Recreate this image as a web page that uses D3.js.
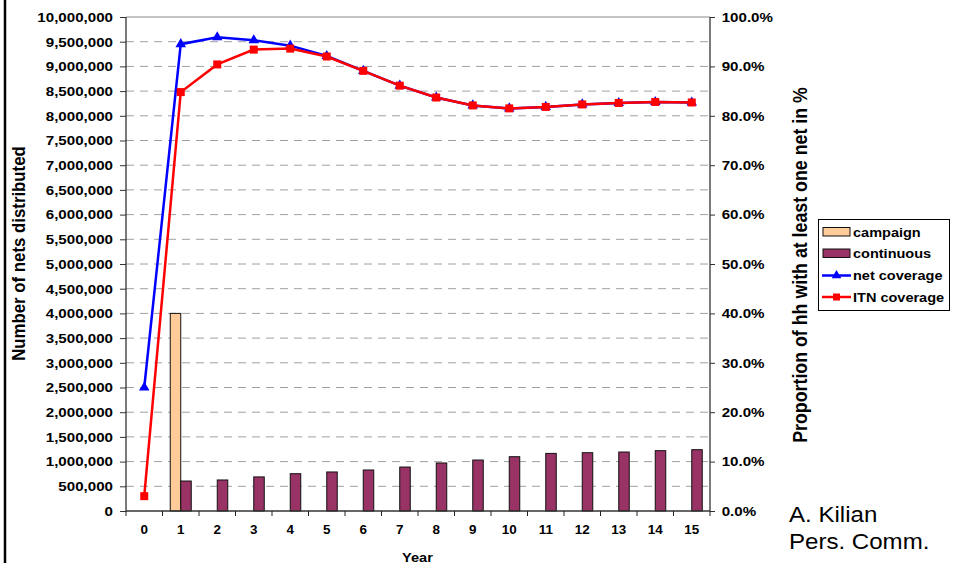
<!DOCTYPE html>
<html>
<head>
<meta charset="utf-8">
<script src="https://cdn.jsdelivr.net/npm/d3@7"></script>
<style>
  html, body { margin: 0; padding: 0; background: #fff; }
  svg { display: block; font-family: "Liberation Sans", Arial, sans-serif; }
</style>
</head>
<body>
<svg id="chart" width="953" height="563"></svg>
<script>
// Net distribution and household coverage projection by year
const years = [0, 1, 2, 3, 4, 5, 6, 7, 8, 9, 10, 11, 12, 13, 14, 15];
const campaign = [0, 4000000, 0, 0, 0, 0, 0, 0, 0, 0, 0, 0, 0, 0, 0, 0];
const continuous = [0, 607000, 628000, 690000, 755000, 790000, 830000, 890000, 972000, 1032000, 1099000, 1166000, 1180000, 1194000, 1221000, 1241000];
const netCoverage = [0.25, 0.945, 0.959, 0.953, 0.942, 0.921, 0.891, 0.861, 0.837, 0.821, 0.815, 0.818, 0.823, 0.826, 0.828, 0.827];
const itnCoverage = [0.03, 0.848, 0.904, 0.934, 0.936, 0.920, 0.891, 0.861, 0.837, 0.821, 0.815, 0.818, 0.823, 0.826, 0.828, 0.827];
const leftTicks = d3.range(0, 10000001, 500000);
const rightTicks = d3.range(0, 11).map(d => d / 10);
const legendItems = ["campaign", "continuous", "net coverage", "ITN coverage"];

const svg = d3.select("#chart");
const pLeft = 126, pRight = 710, pTop = 17, pBottom = 511;
const SX = 1.12; // horizontal widening of all lettering

const x = d3.scaleBand().domain(years).range([pLeft, pRight]);
const yL = d3.scaleLinear().domain([0, 10000000]).range([pBottom, pTop]);
const yR = d3.scaleLinear().domain([0, 1]).range([pBottom, pTop]);
const inner = d3.scaleBand().domain(["campaign", "continuous"]).range([-10.5, 10.5]);
const cx = d => x(d) + x.bandwidth() / 2;

// widen text horizontally around its anchor point
function widen(sel, sx) {
  sel.each(function () {
    const t = d3.select(this);
    const tx = +(t.attr("x") || 0), ty = +(t.attr("y") || 0);
    t.attr("x", 0).attr("y", 0).attr("transform", `translate(${tx},${ty}) scale(${sx},1)`);
  });
}

// slide frame edge on the left
svg.append("line").attr("x1", 5).attr("x2", 5).attr("y1", 0).attr("y2", 563)
  .attr("stroke", "#000").attr("stroke-width", 2.5);

// gridlines
svg.append("g").selectAll("line").data(leftTicks.filter(d => d > 0))
  .join("line")
  .attr("x1", pLeft).attr("x2", pRight)
  .attr("y1", d => yL(d)).attr("y2", d => yL(d))
  .attr("stroke", d => d === 10000000 ? "#888" : "#a0a0a0")
  .attr("stroke-width", 1)
  .attr("stroke-dasharray", d => d === 10000000 ? null : "8,6");

// bars
const bars = svg.append("g");
const barData = [];
years.forEach((yr, i) => {
  if (campaign[i] > 0) barData.push({ yr, key: "campaign", v: campaign[i] });
  if (continuous[i] > 0) barData.push({ yr, key: "continuous", v: continuous[i] });
});
const barColor = { campaign: "#FFCC99", continuous: "#993366" };
bars.selectAll("rect").data(barData).join("rect")
  .attr("x", d => cx(d.yr) + inner(d.key))
  .attr("width", inner.bandwidth())
  .attr("y", d => yL(d.v))
  .attr("height", d => yL(0) - yL(d.v))
  .attr("fill", d => barColor[d.key])
  .attr("stroke", "#111").attr("stroke-width", 1);

// axes
const axL = d3.axisLeft(yL).tickValues(leftTicks).tickFormat(d3.format(",")).tickSize(6).tickPadding(7);
const gL = svg.append("g").attr("transform", `translate(${pLeft},0)`).call(axL);
const axR = d3.axisRight(yR).tickValues(rightTicks).tickFormat(d3.format(".1%")).tickSize(5).tickPadding(6.7);
const gR = svg.append("g").attr("transform", `translate(${pRight},0)`).call(axR);
const axX = d3.axisBottom(x).tickSize(0).tickPadding(14);
const gX = svg.append("g").attr("transform", `translate(0,${pBottom})`).call(axX);
// category separator ticks
svg.append("g").selectAll("line").data(d3.range(years.length + 1))
  .join("line")
  .attr("x1", i => pLeft + i * x.bandwidth()).attr("x2", i => pLeft + i * x.bandwidth())
  .attr("y1", pBottom).attr("y2", pBottom + 5)
  .attr("stroke", "#222").attr("stroke-width", 1);

[gL, gR, gX].forEach(g => {
  g.select(".domain").attr("stroke", "#333").attr("stroke-width", 1.3);
  g.selectAll(".tick line").attr("stroke", "#333");
  g.selectAll(".tick text").attr("fill", "#000").attr("font-weight", "bold")
    .attr("font-family", "'Liberation Sans', Arial, sans-serif");
});
gL.selectAll(".tick text").attr("font-size", 13.5).call(widen, SX);
gR.selectAll(".tick text").attr("font-size", 13.5).call(widen, SX);
gX.selectAll(".tick text").attr("font-size", 12).call(widen, SX);
gL.select(".domain").attr("d", `M0,${pBottom}V${pTop}`);
gR.select(".domain").attr("d", `M0,${pBottom}V${pTop}`);
gX.select(".domain").attr("d", `M${pLeft},0H${pRight}`);

// coverage lines
const line = d3.line().x((d, i) => cx(years[i])).y(d => yR(d));
svg.append("path").datum(netCoverage).attr("d", line)
  .attr("fill", "none").attr("stroke", "#0000FF").attr("stroke-width", 2.5);
svg.append("g").selectAll("path").data(netCoverage).join("path")
  .attr("d", d3.symbol().type(d3.symbolTriangle).size(48))
  .attr("transform", (d, i) => `translate(${cx(years[i])},${yR(d)})`)
  .attr("fill", "#0000FF");
svg.append("path").datum(itnCoverage).attr("d", line)
  .attr("fill", "none").attr("stroke", "#FF0000").attr("stroke-width", 2.5);
svg.append("g").selectAll("rect").data(itnCoverage).join("rect")
  .attr("x", (d, i) => cx(years[i]) - 4).attr("y", d => yR(d) - 4)
  .attr("width", 8).attr("height", 8)
  .attr("fill", "#FF0000");

// axis titles
svg.append("text").attr("transform", `translate(24.5,253.5) scale(${SX},1) rotate(-90)`)
  .attr("text-anchor", "middle").attr("font-size", 16.8).attr("font-weight", "bold")
  .text("Number of nets distributed");
svg.append("text").attr("transform", `translate(806.5,265) scale(${SX},1) rotate(-90)`)
  .attr("text-anchor", "middle").attr("font-size", 17.8).attr("font-weight", "bold")
  .text("Proportion of hh with at least one net in %");
svg.append("text").attr("x", 417.5).attr("y", 561.5)
  .attr("text-anchor", "middle").attr("font-size", 13).attr("font-weight", "bold")
  .text("Year").call(widen, SX);

// legend
const lg = svg.append("g");
lg.append("rect").attr("x", 818.5).attr("y", 219.5).attr("width", 131).attr("height", 91)
  .attr("fill", "#fff").attr("stroke", "#000").attr("stroke-width", 1);
const rowY = [232, 253.5, 275.5, 297];
legendItems.forEach((name, i) => {
  const yy = rowY[i];
  if (i < 2) {
    lg.append("rect").attr("x", 823).attr("y", yy - 4.5).attr("width", 27).attr("height", 8.5)
      .attr("fill", barColor[name]).attr("stroke", "#111").attr("stroke-width", 1);
  } else {
    const col = i === 2 ? "#0000FF" : "#FF0000";
    lg.append("line").attr("x1", 822).attr("x2", 851).attr("y1", yy).attr("y2", yy)
      .attr("stroke", col).attr("stroke-width", 2.5);
    if (i === 2) {
      lg.append("path").attr("d", d3.symbol().type(d3.symbolTriangle).size(40))
        .attr("transform", `translate(836.5,${yy})`).attr("fill", col);
    } else {
      lg.append("rect").attr("x", 833).attr("y", yy - 3.5).attr("width", 7).attr("height", 7).attr("fill", col);
    }
  }
  lg.append("text").attr("x", 853).attr("y", yy + 4.7)
    .attr("font-size", 13.2).attr("font-weight", "bold").text(name).call(widen, 1.1);
});

// source note
svg.append("text").attr("x", 789).attr("y", 522).attr("font-size", 21.5).text("A. Kilian").call(widen, SX);
svg.append("text").attr("x", 789).attr("y", 549).attr("font-size", 21.5).text("Pers. Comm.").call(widen, SX);
</script>
</body>
</html>
